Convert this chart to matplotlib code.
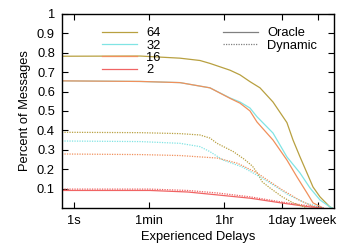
import matplotlib
matplotlib.use("Agg")
import matplotlib.pyplot as plt
from matplotlib.lines import Line2D

plt.rcParams['font.family'] = ['Liberation Sans', 'DejaVu Sans']

# delays in seconds, fraction of messages still waiting
oracle_64_x = [0.52, 37, 325, 968, 1670, 4980, 8590, 14800, 25600, 52000, 111000,
               155000, 227000, 332000, 461000, 675000, 1.16e6, 1.3e6]
oracle_64_y = [0.782, 0.783, 0.772, 0.76, 0.745, 0.71, 0.686, 0.651, 0.619, 0.546, 0.44,
               0.35, 0.263, 0.18, 0.108, 0.057, 0.005, 0.0]

oracle_32_x = [0.52, 37, 325, 1670, 4980, 8590, 14800, 21700, 52000, 111000, 227000,
               391000, 675000, 1.16e6, 1.3e6]
oracle_32_y = [0.655, 0.652, 0.646, 0.619, 0.567, 0.546, 0.515, 0.47, 0.386, 0.263, 0.18,
               0.103, 0.041, 0.005, 0.0]

oracle_16_x = [0.52, 37, 325, 1670, 4980, 8590, 14800, 21700, 52000, 111000, 192000,
               332000, 461000, 795000]
oracle_16_y = [0.655, 0.652, 0.646, 0.619, 0.565, 0.54, 0.50, 0.443, 0.35, 0.247, 0.16,
               0.077, 0.026, 0.0]

oracle_2_x = [0.52, 63, 500, 2500, 15000, 86000, 390000, 800000]
oracle_2_y = [0.09, 0.09, 0.082, 0.067, 0.05, 0.025, 0.005, 0.0]

dyn_64_x = [0.52, 37, 325, 968, 1670, 2450, 6000, 11000, 17000, 22000, 29000, 44000,
            86000, 155000, 330000]
dyn_64_y = [0.39, 0.388, 0.383, 0.376, 0.36, 0.333, 0.29, 0.25, 0.215, 0.18, 0.134, 0.103,
            0.057, 0.026, 0.0]

dyn_32_x = [0.52, 37, 325, 968, 1670, 3400, 10000, 25600, 63000, 120000, 300000, 800000]
dyn_32_y = [0.345, 0.342, 0.333, 0.316, 0.29, 0.247, 0.21, 0.16, 0.108, 0.067, 0.026, 0.0]

dyn_16_x = [0.52, 37, 325, 2500, 7500, 22000, 38000, 86000, 220000, 550000]
dyn_16_y = [0.278, 0.275, 0.27, 0.257, 0.23, 0.18, 0.144, 0.093, 0.04, 0.0]

dyn_2_x = [0.52, 63, 500, 2500, 15000, 86000, 390000, 800000]
dyn_2_y = [0.097, 0.097, 0.09, 0.077, 0.057, 0.03, 0.01, 0.0]

tick_pos = [1, 60, 3600, 86400, 604800]
tick_labels = ['1s', '1min', '1hr', '1day', '1week']

c64, c32, c16, c2 = '#b8a040', '#80e4e4', '#f0905c', '#f06464'
fs = 9.3

fig = plt.figure(figsize=(3.58, 2.49), dpi=100)
ax = fig.add_axes([0.173, 0.165, 0.76, 0.779])

lw = 0.9
dot = (0, (1, 1))
ax.plot(oracle_64_x, oracle_64_y, color=c64, lw=lw)
ax.plot(oracle_32_x, oracle_32_y, color=c32, lw=lw)
ax.plot(oracle_16_x, oracle_16_y, color=c16, lw=lw)
ax.plot(oracle_2_x, oracle_2_y, color=c2, lw=lw)
ax.plot(dyn_64_x, dyn_64_y, color=c64, lw=lw, ls=dot)
ax.plot(dyn_32_x, dyn_32_y, color=c32, lw=lw, ls=dot)
ax.plot(dyn_16_x, dyn_16_y, color=c16, lw=lw, ls=dot)
ax.plot(dyn_2_x, dyn_2_y, color=c2, lw=lw, ls=dot)

ax.set_xscale('log')
ax.set_xlim(0.52, 1.45e6)
ax.set_ylim(0, 1)
ax.set_xticks(tick_pos)
ax.set_xticklabels(tick_labels)
ax.minorticks_off()
ax.set_yticks([0.1, 0.2, 0.3, 0.4, 0.5, 0.6, 0.7, 0.8, 0.9, 1.0])
ax.set_yticklabels(['0.1', '0.2', '0.3', '0.4', '0.5', '0.6', '0.7', '0.8', '0.9', '1'])
ax.tick_params(direction='in', top=True, right=True, length=4, width=0.8,
               labelsize=fs, pad=5)
for s in ax.spines.values():
    s.set_linewidth(1.0)
ax.set_xlabel('Experienced Delays', fontsize=fs, labelpad=3)
ax.set_ylabel('Percent of Messages', fontsize=fs, labelpad=4)

h1 = [Line2D([], [], color=c, lw=lw) for c in (c64, c32, c16, c2)]
leg1 = ax.legend(h1, ['64', '32', '16', '2'], loc='upper left',
                 bbox_to_anchor=(0.125, 0.965), frameon=False, fontsize=fs,
                 handlelength=2.7, labelspacing=0.02, handletextpad=0.7,
                 borderpad=0)
ax.add_artist(leg1)
h2 = [Line2D([], [], color='#808080', lw=lw),
      Line2D([], [], color='#808080', lw=lw, ls=dot)]
ax.legend(h2, ['Oracle', 'Dynamic'], loc='upper left',
          bbox_to_anchor=(0.57, 0.965), frameon=False, fontsize=fs,
          handlelength=2.7, labelspacing=0.02, handletextpad=0.7, borderpad=0)

fig.savefig('out.png', dpi=100)
